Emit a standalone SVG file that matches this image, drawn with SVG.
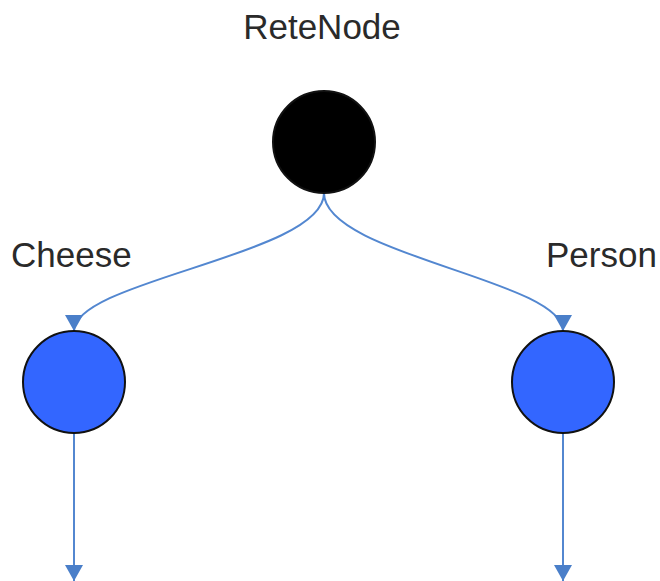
<svg xmlns="http://www.w3.org/2000/svg" width="660" height="581" viewBox="0 0 660 581">
<style>
.lbl{font-family:"Liberation Sans",Arial,sans-serif;font-size:35px;fill:#2a2a2a}
.node{stroke:#111;stroke-width:2}
.edge{fill:none;stroke:#5387d0;stroke-width:2}
</style>
<defs>
<marker id="arr" viewBox="0 0 16 18" refX="16" refY="9" markerWidth="16" markerHeight="18" markerUnits="userSpaceOnUse" orient="auto">
<path d="M0,0 L16,9 L0,18 Z" fill="#4a7fc9"/>
</marker>
</defs>
<rect width="660" height="581" fill="#fff"/>
<g id="connectors">
<path class="edge" d="M324,193 C324,255 74,280 74,331" marker-end="url(#arr)"/>
<path class="edge" d="M324,193 C324,255 563,280 563,331" marker-end="url(#arr)"/>
<path class="edge" d="M74,433 L74,581" marker-end="url(#arr)"/>
<path class="edge" d="M563,433 L563,581" marker-end="url(#arr)"/>
</g>
<g id="retenode">
<circle class="node" cx="324" cy="142" r="51" fill="#000"/>
<text class="lbl" x="322" y="39" text-anchor="middle">ReteNode</text>
</g>
<g id="cheese">
<circle class="node" cx="74" cy="382" r="51" fill="#3366ff"/>
<text class="lbl" x="11" y="267">Cheese</text>
</g>
<g id="person">
<circle class="node" cx="563" cy="382" r="51" fill="#3366ff"/>
<text class="lbl" x="546" y="267">Person</text>
</g>
</svg>
